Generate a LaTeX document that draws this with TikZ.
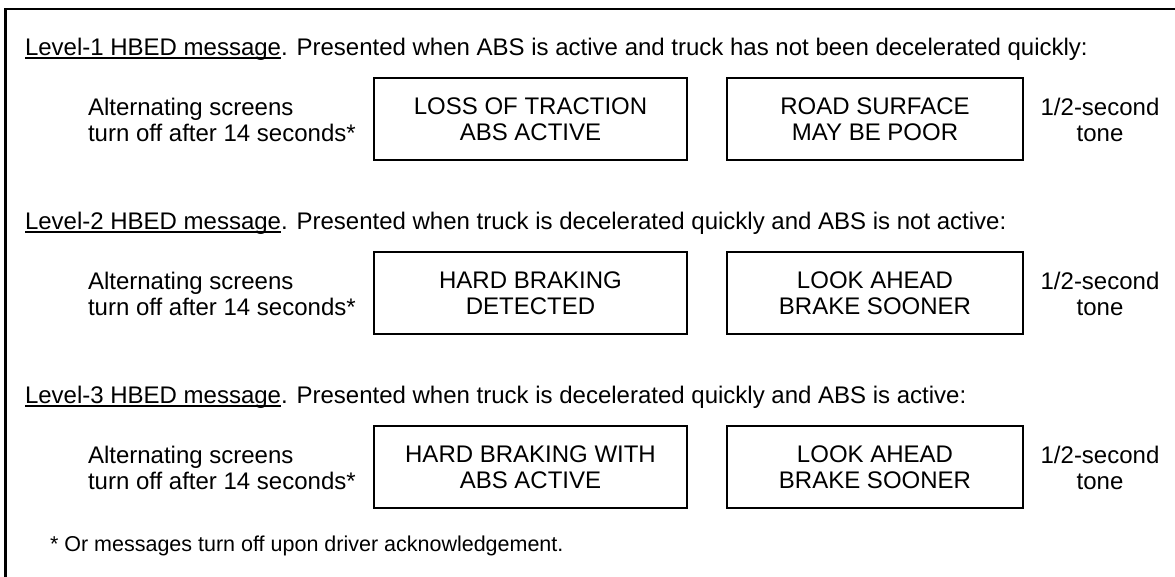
\documentclass[tikz,border=0pt]{standalone}
\usepackage{fontspec}
\setmainfont{Liberation Sans}
\newcommand\myul[1]{\setbox0\hbox{#1}\rlap{\rule[-3.5pt]{\wd0}{1.3pt}}\box0}
\tikzset{
  txt/.style={inner sep=0pt, outer sep=0pt, font=\fontsize{24}{26.5}\selectfont},
  screenbox/.style={txt, draw=black, line width=1.4pt, minimum height=82pt, align=center},
  sidetxt/.style={txt, align=left, anchor=west},
  tonetxt/.style={txt, align=center},
  headtxt/.style={txt, anchor=base west},
  frameline/.style={draw=black, line width=2.6pt}
}
\begin{document}
\begin{tikzpicture}[x=1pt,y=-1pt]
\useasboundingbox (0,0) rectangle (1175,576);
\clip (0,0) rectangle (1175,576);
\fill[white] (0,0) rectangle (1175,576);
% outer frame (cropped on the right and at the bottom)
\draw[frameline] (5.5,9) rectangle (1200,600);

% Level 1
\node[headtxt] (h1) at (25,55) {\myul{Level-1 HBED message}. Presented when ABS is active and truck has not been decelerated quickly:};
\node[sidetxt] (s1) at (88,120) {Alternating screens\\turn off after 14 seconds*};
\node[screenbox, minimum width=313pt] (a1) at (530.5,119) {LOSS OF TRACTION\\ABS ACTIVE};
\node[screenbox, minimum width=296pt] (b1) at (875,119) {ROAD SURFACE\\MAY BE POOR};
\node[tonetxt] (t1) at (1100,120) {1/2-second\\tone};

% Level 2
\node[headtxt] (h2) at (25,229) {\myul{Level-2 HBED message}. Presented when truck is decelerated quickly and ABS is not active:};
\node[sidetxt] (s2) at (88,294) {Alternating screens\\turn off after 14 seconds*};
\node[screenbox, minimum width=313pt] (a2) at (530.5,293) {HARD BRAKING\\DETECTED};
\node[screenbox, minimum width=296pt] (b2) at (875,293) {LOOK AHEAD\\BRAKE SOONER};
\node[tonetxt] (t2) at (1100,294) {1/2-second\\tone};

% Level 3
\node[headtxt] (h3) at (25,403) {\myul{Level-3 HBED message}. Presented when truck is decelerated quickly and ABS is active:};
\node[sidetxt] (s3) at (88,468) {Alternating screens\\turn off after 14 seconds*};
\node[screenbox, minimum width=313pt] (a3) at (530.5,467) {HARD BRAKING WITH\\ABS ACTIVE};
\node[screenbox, minimum width=296pt] (b3) at (875,467) {LOOK AHEAD\\BRAKE SOONER};
\node[tonetxt] (t3) at (1100,468) {1/2-second\\tone};

% footnote
\node[txt, anchor=base west, font=\fontsize{21.5}{24}\selectfont] (fn) at (50,551) {* Or messages turn off upon driver acknowledgement.};
\end{tikzpicture}
\end{document}
